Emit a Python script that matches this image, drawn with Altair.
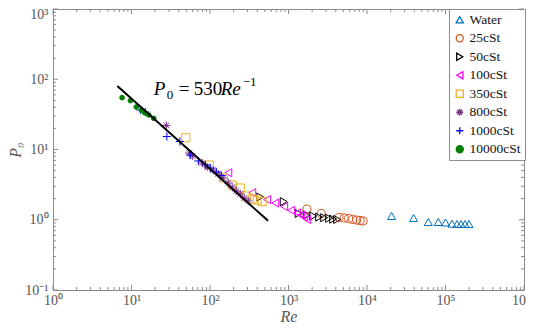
import altair as alt
import pandas as pd

# ---------------- data ----------------
series = ["Water", "25cSt", "50cSt", "100cSt", "350cSt", "800cSt", "1000cSt", "10000cSt"]
colors = ["#0072BD", "#D95319", "#000000", "#FF00FF", "#EDB120", "#7E2F8E", "#0000FF", "#008000"]
fills = ["transparent"] * 7 + ["#008000"]
shapes = ["triangle-up", "circle", "triangle-right", "triangle-left", "square",
          "M-1,0L1,0M0,-1L0,1M-0.7,-0.7L0.7,0.7M-0.7,0.7L0.7,-0.7",
          "M-1,0L1,0M0,-1L0,1", "circle"]

water_re = [20560, 39200, 60400, 80900, 100000, 121000, 140000, 157000, 177000, 199000]
water_p = [1.13, 1.06, 0.929, 0.929, 0.914, 0.879, 0.870, 0.870, 0.870, 0.870]

c25_re = [1714, 2606, 4416, 5112, 5838, 6562, 7383, 8174, 8920]
c25_p = [1.42, 1.23, 1.08, 1.06, 1.04, 1.01, 0.99, 0.976, 0.96]

c50_re = [437, 869, 1349, 1705, 2063, 2459, 2847, 3296, 3706, 4169]
c50_p = [2.11, 1.81, 1.23, 1.17, 1.13, 1.09, 1.07, 1.05, 1.02, 1.01]

c100_re = [171, 345, 535, 677, 880, 1081, 1290, 1452, 1585, 1730]
c100_p = [4.67, 2.43, 1.94, 1.73, 1.54, 1.36, 1.25, 1.17, 1.09, 1.01]

c350_re = [49.2, 98, 148, 192, 243, 290, 345, 400, 463]
c350_p = [14.7, 6.02, 3.93, 3.13, 2.83, 2.18, 1.97, 1.91, 1.82]

c800_re = [27.8, 54.5, 59.6, 79.8, 92.4, 110, 127.5, 147.7, 171, 192, 216, 243, 273, 307]
c800_p = [22.0, 8.91, 8.07, 6.42, 5.64, 5.11, 4.48, 3.93, 3.33, 2.92, 2.57, 2.33, 2.04, 1.85]

c1000_re = [12.97, 15.0, 28.2, 41.3, 56.1, 71.0, 87.1, 100.9, 120.3, 139.3]
c1000_p = [36.5, 34.2, 15.3, 13.0, 8.35, 6.86, 6.02, 5.45, 4.78, 4.26]

c10000_re = [7.59, 9.68, 11.5, 13.4, 14.7, 16.6, 19.2]
c10000_p = [54.7, 49.5, 40.3, 36.2, 33.4, 31.0, 27.8]

fit_re = [6.6, 550]
fit_p = [80.3, 0.964]

ann_re = [19.2]
ann_p = [60]

x_major = [1, 10, 100, 1000, 10000, 100000, 1000000]
y_major = [0.1, 1, 10, 100, 1000]
x_minor = [k * 10 ** e for e in range(0, 6) for k in range(2, 10)]
y_minor = [k * 10.0 ** e for e in range(-1, 2 + 1) for k in range(2, 10)]

all_re = [water_re, c25_re, c50_re, c100_re, c350_re, c800_re, c1000_re, c10000_re]
all_p = [water_p, c25_p, c50_p, c100_p, c350_p, c800_p, c1000_p, c10000_p]

rows = []
for name, rs, ps in zip(series, all_re, all_p):
    for r, p in zip(rs, ps):
        rows.append({"Re": r, "P": p, "fluid": name})
df = pd.DataFrame(rows)
df_open = df[df["fluid"] != "10000cSt"]
df_dot = df[df["fluid"] == "10000cSt"]

# ---------------- chart ----------------
W, H = 471, 281
GREY = "#8c8c8c"
TXT = "#555555"
FONT = "Liberation Serif"

xscale = alt.Scale(type="log", domain=[1, 1e6], nice=False)
yscale = alt.Scale(type="log", domain=[0.1, 1000], nice=False)

sup = ("(round(log(datum.value)/LN10) == -1 ? '\u207b\u00b9' : "
       "round(log(datum.value)/LN10) == 0 ? '\u2070' : "
       "round(log(datum.value)/LN10) == 1 ? '\u00b9' : "
       "round(log(datum.value)/LN10) == 2 ? '\u00b2' : "
       "round(log(datum.value)/LN10) == 3 ? '\u00b3' : "
       "round(log(datum.value)/LN10) == 4 ? '\u2074' : "
       "round(log(datum.value)/LN10) == 5 ? '\u2075' : '\u2076')")

xaxis = alt.Axis(values=x_major, labelExpr="'10' + " + sup, ticks=False, domain=False,
                 grid=False, labelFont=FONT, labelFontSize=14, labelColor=TXT,
                 labelPadding=3, titleFont=FONT, titleFontStyle="italic",
                 titleFontWeight="normal", titleFontSize=16, titleColor=TXT,
                 titleY=31, titleBaseline="alphabetic", labelFlush=False,
                 labelOffset={"condition": {"test": "datum.value >= 1000000", "value": -3},
                              "value": 0})
yaxis = alt.Axis(values=y_major, labelExpr="'10' + " + sup, ticks=False, domain=False,
                 grid=False, labelFont=FONT, labelFontSize=14, labelColor=TXT,
                 labelPadding=5, titleFont=FONT, titleFontStyle="italic",
                 titleFontWeight="normal", titleFontSize=16, titleColor=TXT,
                 titleX=-30, titleBaseline="bottom", labelFlush=False,
                 labelOffset={"condition": {"test": "datum.value >= 1000", "value": 5},
                              "value": 0})

def X(f):
    return alt.X(f, type="quantitative", scale=xscale, title="Re", axis=xaxis)

def Y(f):
    return alt.Y(f, type="quantitative", scale=yscale, title="P\u2080", axis=yaxis)

def enc():
    return dict(
        x=X("Re"), y=Y("P"),
        color=alt.Color("fluid:N", scale=alt.Scale(domain=series, range=colors), title=None),
        fill=alt.Fill("fluid:N", scale=alt.Scale(domain=series, range=fills), title=None),
        shape=alt.Shape("fluid:N", scale=alt.Scale(domain=series, range=shapes), title=None),
    )

points = alt.Chart(df_open).mark_point(filled=False, strokeWidth=1, opacity=1, size=65).encode(**enc())
dots = alt.Chart(df_dot).mark_point(filled=False, strokeWidth=1, opacity=1, size=22).encode(**enc())

fit = alt.Chart(pd.DataFrame({"Re": fit_re, "P": fit_p})).mark_line(
    color="black", strokeWidth=2).encode(x=X("Re"), y=Y("P"))

ann = pd.DataFrame({"Re": ann_re, "P": ann_p})
def piece(txt, dx, italic, dy=0, size=19):
    return alt.Chart(ann).mark_text(
        text=txt, align="left", baseline="alphabetic", dx=dx, dy=dy, font=FONT,
        fontSize=size, fontStyle="italic" if italic else "normal", color="black").encode(
        x=X("Re"), y=Y("P"))

texts = (piece("P", 0, True) + piece("0", 13, False, dy=4, size=13)
         + piece("=", 25, False) + piece("530", 40, False) + piece("Re", 67, True)
         + piece("\u22121", 89, False, dy=-9, size=13))

def xticks(vals, length):
    d = pd.DataFrame({"v": vals})
    b = alt.Chart(d).mark_rule(color=GREY, strokeWidth=1).encode(
        x=X("v"), y=alt.value(H), y2=alt.value(H - length))
    t = alt.Chart(d).mark_rule(color=GREY, strokeWidth=1).encode(
        x=X("v"), y=alt.value(0), y2=alt.value(length))
    return b + t

def yticks(vals, length):
    d = pd.DataFrame({"v": vals})
    l = alt.Chart(d).mark_rule(color=GREY, strokeWidth=1).encode(
        y=Y("v"), x=alt.value(0), x2=alt.value(length))
    r = alt.Chart(d).mark_rule(color=GREY, strokeWidth=1).encode(
        y=Y("v"), x=alt.value(W), x2=alt.value(W - length))
    return l + r

chart = alt.layer(
    points, dots, xticks(x_major, 5), xticks(x_minor, 3), yticks(y_major, 5), yticks(y_minor, 3),
    fit, texts
).properties(
    width=W, height=H,
    autosize=alt.AutoSizeParams(type="none"),
    padding={"left": 45, "top": 1, "right": 2, "bottom": 33},
).configure_view(
    stroke=GREY, strokeWidth=1
).configure_legend(
    orient="none", legendX=396, legendY=0,
    strokeColor=GREY, fillColor="white", padding=4, cornerRadius=0,
    labelFont=FONT, labelFontSize=13.5, labelColor="#111111", rowPadding=3.5,
    symbolStrokeWidth=1.3, symbolSize=50, labelOffset=3, labelLimit=200
)

chart.save("out.html", embed_options={"renderer": "svg", "actions": False})
